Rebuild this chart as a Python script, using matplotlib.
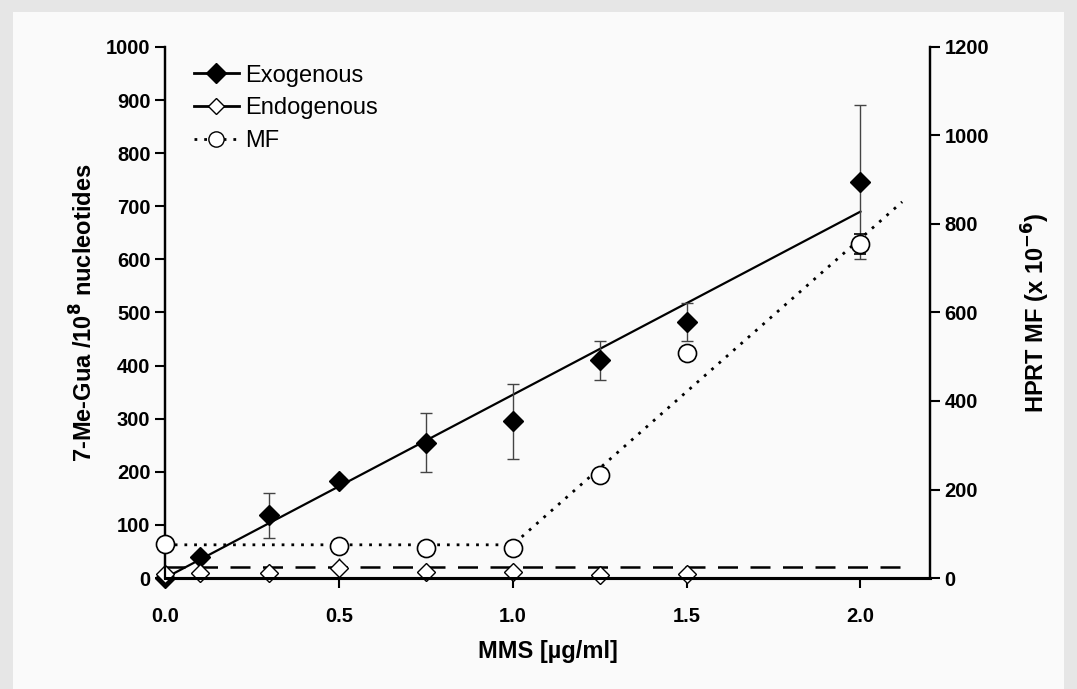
import matplotlib.pyplot as plt
from matplotlib.legend_handler import HandlerLine2D
import numpy as np

plt.rcParams['font.family'] = ['Liberation Sans', 'DejaVu Sans']

# MMS dose (ug/ml)
dose = [0.0, 0.1, 0.3, 0.5, 0.75, 1.0, 1.25, 1.5, 2.0]

# 7-Me-Gua per 10^8 nucleotides
exo = [0, 40, 118, 183, 255, 295, 410, 482, 745]
exo_err = [0, 8, 42, 8, 55, 70, 37, 35, 145]
exo_fit_x = [0.0, 2.0]
exo_fit_y = [0, 690]

endo_x = [0.0, 0.1, 0.3, 0.5, 0.75, 1.0, 1.25, 1.5]
endo = [8, 10, 10, 18, 12, 12, 5, 8]
endo_err = [4, 10, 10, 20, 12, 10, 6, 10]
endo_fit_x = [0.0, 2.12]
endo_fit_y = [20, 20]

# HPRT MF (x 10^-6)
mf_x = [0.0, 0.5, 0.75, 1.0, 1.25, 1.5, 2.0]
mf = [76, 72, 68, 68, 232, 508, 755]
mf_err = [0, 0, 0, 0, 0, 0, 22]
mf_fit_x = [0.0, 1.0, 2.12]
mf_fit_y = [75, 75, 850]


class MarkerRight(HandlerLine2D):
    # legend handle: line on the left, marker at its right end
    def get_xdata(self, legend, xdescent, ydescent, width, height, fontsize):
        xdata = np.array([-xdescent, -xdescent + width])
        return xdata, np.array([-xdescent + width - 4])


fig = plt.figure(figsize=(10.77, 6.89), dpi=100, facecolor='#e6e6e6')
fig.patches.append(plt.Rectangle((0.012, 0.0), 0.976, 0.982, transform=fig.transFigure,
                                 facecolor='#fafafa', edgecolor='none', zorder=-10))
ax = fig.add_axes([0.1532, 0.1611, 0.7103, 0.7707])
ax.patch.set_alpha(0)
ax2 = ax.twinx()

ax.plot(exo_fit_x, exo_fit_y, color='black', lw=1.6, zorder=3)
ax.errorbar(dose, exo, yerr=exo_err, fmt='D', color='black', ms=10, ecolor='#444444',
            elinewidth=1, capsize=4, zorder=4, clip_on=False)
ax.plot(endo_fit_x, endo_fit_y, color='black', lw=1.8, dashes=(8, 5), zorder=3)
ax.errorbar(endo_x, endo, yerr=endo_err, fmt='D', mfc='white', mec='black', ms=9,
            ecolor='black', elinewidth=1, capsize=0, zorder=4, clip_on=False)
ax2.plot(mf_fit_x, mf_fit_y, color='black', lw=2, ls=(0, (1, 2.5)), zorder=3)
ax2.errorbar(mf_x, mf, yerr=mf_err, fmt='o', mfc='white', mec='black', ms=13,
             mew=1.2, ecolor='black', elinewidth=1, capsize=4, zorder=4, clip_on=False)

ax.set_xlim(0, 2.2)
ax.set_ylim(0, 1000)
ax2.set_ylim(0, 1200)
ax.set_xticks([0.0, 0.5, 1.0, 1.5, 2.0])
ax.set_xticklabels(['0.0', '0.5', '1.0', '1.5', '2.0'])
ax.set_yticks(np.arange(0, 1001, 100))
ax2.set_yticks(np.arange(0, 1201, 200))

for a in (ax, ax2):
    a.spines['top'].set_visible(False)
    a.spines['left'].set_linewidth(1.6)
    a.spines['right'].set_linewidth(1.6)
    a.spines['bottom'].set_linewidth(2.2)
    a.tick_params(labelsize=14.5, width=1.5, length=7, direction='out')
    for t in a.get_yticklabels() + a.get_xticklabels():
        t.set_fontweight('bold')
ax.tick_params(axis='x', pad=14)

ax.set_xlabel('MMS [µg/ml]', fontsize=17, fontweight='bold', labelpad=10)
ax.set_ylabel('7-Me-Gua /10$^{\\mathbf{8}}$ nucleotides', fontsize=17, fontweight='bold', labelpad=6)
ax2.set_ylabel('HPRT MF (x 10$^{\\mathbf{-6}}$)', fontsize=17, fontweight='bold', labelpad=22)

h1 = plt.Line2D([], [], color='black', lw=2, marker='D', ms=10)
h2 = plt.Line2D([], [], color='black', lw=2, marker='D', ms=8, mfc='white')
h3 = plt.Line2D([], [], color='black', lw=2, ls=(0, (1, 2.5)), marker='o', ms=11, mfc='white')
ax.legend([h1, h2, h3], ['Exogenous', 'Endogenous', 'MF'], loc='upper left',
          bbox_to_anchor=(0.01, 1.007), frameon=False, fontsize=17, handlelength=1.9,
          handletextpad=0.25, labelspacing=0.45,
          handler_map={h1: MarkerRight(), h2: MarkerRight(), h3: MarkerRight()})

fig.savefig('out.png', dpi=100, facecolor=fig.get_facecolor())
